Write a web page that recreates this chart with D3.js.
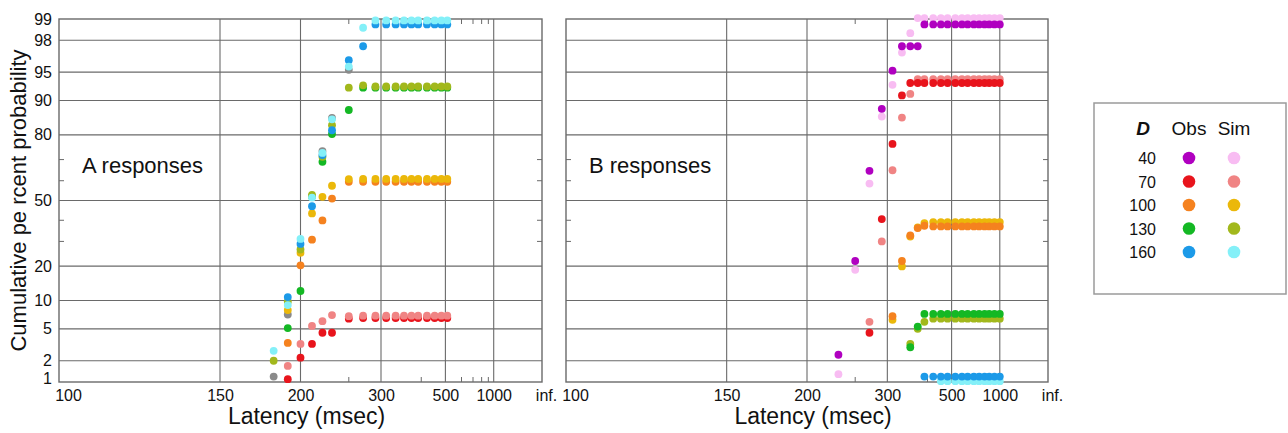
<!DOCTYPE html>
<html>
<head>
<meta charset="utf-8">
<script src="https://cdn.jsdelivr.net/npm/d3@7"></script>
<style>
  body { margin: 0; background: #fff; }
  text { font-family: "Liberation Sans", Arial, sans-serif; fill: #111; }
</style>
</head>
<body>
<div id="chart"></div>
<script>
// Tick values
const yTicks = [1, 2, 5, 10, 20, 50, 80, 90, 95, 98, 99];
const yMinor = [30, 40, 60, 70];
const xTicks = [100, 150, 200, 300, 500, 1000, Infinity];
const xMinor = [250, 400, 600, 700, 800, 900];

// Latency bins (msec) per panel
const latA = [180, 190, 200, 210, 220, 230, 250, 270, 290, 310, 330, 350, 370, 390, 420, 450, 480, 510];
const latB = [230, 250, 270, 290, 310, 330, 350, 370, 390, 420, 450, 480, 520, 560, 600, 650, 700, 760, 820, 900, 1000];

// A responses: cumulative percent
const obs70A  = [null, 1.1, 2.2, 3.3, 4.5, 4.5, 6.5, 6.6, 6.6, 6.6, 6.6, 6.6, 6.6, 6.6, 6.6, 6.6, 6.6, 6.6];
const sim70A  = [null, 1.7, 3.3, 5.4, 6.1, 7.1, 6.9, 7.0, 7.0, 7.0, 7.0, 7.0, 7.0, 7.0, 7.0, 7.0, 7.0, 7.0];
const obs100A = [null, 3.4, 20.3, 30.8, 39.9, 51, 59.5, 59.5, 59.5, 59.5, 59.5, 59.5, 59.5, 59.5, 59.5, 59.5, 59.5, 59.5];
const sim100A = [null, 8.0, 25.1, 43.4, 51.9, 57.5, 60.8, 60.9, 60.9, 60.9, 60.9, 60.9, 60.9, 60.9, 60.9, 60.9, 60.9, 60.9];
const obs130A = [null, 5.1, 12.3, 52, 69, 80.3, 87.7, 92.6, 92.6, 92.6, 92.6, 92.6, 92.6, 92.6, 92.6, 92.6, 92.6, 92.6];
const sim130A = [2.0, 9.8, 26.5, 52.9, 71.2, 83.3, 92.6, 93.0, 92.8, 92.8, 92.8, 92.8, 92.8, 92.8, 92.8, 92.8, 92.8, 92.8];
const obs160A = [null, 10.8, 28.9, 47.1, 72, 81.6, 96.4, 97.6, 98.8, 98.8, 98.8, 98.8, 98.8, 98.8, 98.8, 98.8, 98.8, 98.8];
const sim160A = [2.7, 9.0, 31.1, 51.5, 72.9, 85.1, 95.7, 98.66, 98.95, 98.95, 98.95, 98.95, 98.95, 98.95, 98.95, 98.95, 98.95, 98.95];
const greyA   = [1.2, 7.2, null, null, 73.7, 85.5, 95.3, null, null, null, null, null, null, null, null, null, null, null];

// B responses: cumulative percent
const obs40B  = [2.4, 21.9, 64.8, 88, 95.2, 97.6, 97.6, 97.6, 98.8, 98.8, 98.8, 98.8, 98.8, 98.8, 98.8, 98.8, 98.8, 98.8, 98.8, 98.8, 98.8];
const sim40B  = [1.3, 18.7, 58.6, 85.9, 93.1, 97.1, 98.4, 99.03, 99.03, 99.03, 99.03, 99.03, 99.03, 99.03, 99.03, 99.03, 99.03, 99.03, 99.03, 99.03, 99.03];
const obs70B  = [null, null, 4.5, 40.6, 76.6, 91.1, 93.4, 93.4, 93.4, 93.4, 93.4, 93.4, 93.4, 93.4, 93.4, 93.4, 93.4, 93.4, 93.4, 93.4, 93.4];
const sim70B  = [null, null, 6.0, 30, 65.1, 85.6, 91.4, 94.0, 94.0, 94.0, 94.0, 94.0, 94.0, 94.0, 94.0, 94.0, 94.0, 94.0, 94.0, 94.0, 94.0];
const obs100B = [null, null, null, null, 6.9, 21.9, 32.7, 36.2, 37.3, 37.0, 37.0, 37.0, 37.0, 37.0, 37.0, 37.0, 37.0, 37.0, 37.0, 37.0, 37.0];
const sim100B = [null, null, null, null, 6.3, 19.9, 32.2, 36.5, 38.6, 39.1, 39.1, 39.1, 39.1, 39.1, 39.1, 39.1, 39.1, 39.1, 39.1, 39.1, 39.1];
const obs130B = [null, null, null, null, null, null, 3.0, 5.3, 7.3, 7.3, 7.3, 7.3, 7.3, 7.3, 7.3, 7.3, 7.3, 7.3, 7.3, 7.3, 7.3];
const sim130B = [null, null, null, null, null, null, 3.3, 5.0, 6.0, 6.5, 6.5, 6.5, 6.5, 6.5, 6.5, 6.5, 6.5, 6.5, 6.5, 6.5, 6.5];
const obs160B = [null, null, null, null, null, null, null, null, 1.2, 1.2, 1.2, 1.2, 1.2, 1.2, 1.2, 1.2, 1.2, 1.2, 1.2, 1.2, 1.2];
const sim160B = [null, null, null, null, null, null, null, null, null, null, 1.03, 1.03, 1.03, 1.03, 1.03, 1.03, 1.03, 1.03, 1.03, 1.03, 1.03];

// Legend
const dValues = [40, 70, 100, 130, 160];
const obsColors = ["#b000c0", "#e8141c", "#f5821f", "#14b824", "#1c9ae8"];
const simColors = ["#f8bcf2", "#f08484", "#ebb80a", "#a2b81c", "#84f0f8"];
const greyColor = "#8a8a8a";

// inverse normal CDF (Acklam)
function probit(p) {
  const a = [-3.969683028665376e+01, 2.209460984245205e+02, -2.759285104469687e+02, 1.383577518672690e+02, -3.066479806614716e+01, 2.506628277459239e+00];
  const b = [-5.447609879822406e+01, 1.615858368580409e+02, -1.556989798598866e+02, 6.680131188771972e+01, -1.328068155288572e+01];
  const c = [-7.784894002430293e-03, -3.223964580411365e-01, -2.400758277161838e+00, -2.549732539343734e+00, 4.374664141464968e+00, 2.938163982698783e+00];
  const d = [7.784695709041462e-03, 3.224671290700398e-01, 2.445134137142996e+00, 3.754408661907416e+00];
  const plow = 0.02425;
  let q, r;
  if (p < plow) {
    q = Math.sqrt(-2 * Math.log(p));
    return (((((c[0]*q+c[1])*q+c[2])*q+c[3])*q+c[4])*q+c[5]) / ((((d[0]*q+d[1])*q+d[2])*q+d[3])*q+1);
  }
  if (p <= 1 - plow) {
    q = p - 0.5; r = q * q;
    return (((((a[0]*r+a[1])*r+a[2])*r+a[3])*r+a[4])*r+a[5])*q / (((((b[0]*r+b[1])*r+b[2])*r+b[3])*r+b[4])*r+1);
  }
  q = Math.sqrt(-2 * Math.log(1 - p));
  return -(((((c[0]*q+c[1])*q+c[2])*q+c[3])*q+c[4])*q+c[5]) / ((((d[0]*q+d[1])*q+d[2])*q+d[3])*q+1);
}

const W = 1288, H = 433;
const plotTop = 19, plotBottom = 382;
const gridColor = "#6a6a6a";

const svg = d3.select("#chart").append("svg")
  .attr("width", W).attr("height", H);

// probability scale on y
const yz = d3.scaleLinear().domain([probit(0.01), probit(0.99)]).range([plotBottom, plotTop]);
const y = p => yz(probit(p / 100));
const recip = L => (L === Infinity ? 0 : -1 / L);

function panel(x0, x1, label, lat, series, showY) {
  const xr = d3.scaleLinear().domain([-1 / 100, 0]).range([x0, x1]);
  const x = L => xr(recip(L));
  const g = svg.append("g");

  // horizontal grid
  g.selectAll(".hg").data(yTicks.slice(1, -1)).join("line")
    .attr("x1", x0).attr("x2", x1)
    .attr("y1", d => y(d)).attr("y2", d => y(d))
    .attr("stroke", gridColor).attr("stroke-width", 1.1);
  // vertical grid
  g.selectAll(".vg").data(xTicks.slice(1, -1)).join("line")
    .attr("x1", d => x(d)).attr("x2", d => x(d))
    .attr("y1", plotTop).attr("y2", plotBottom)
    .attr("stroke", gridColor).attr("stroke-width", 1.1);
  // minor y ticks on both edges
  yMinor.forEach(p => {
    g.append("line").attr("x1", x0).attr("x2", x0 + 5).attr("y1", y(p)).attr("y2", y(p))
      .attr("stroke", gridColor);
    g.append("line").attr("x1", x1 - 5).attr("x2", x1).attr("y1", y(p)).attr("y2", y(p))
      .attr("stroke", gridColor);
  });
  // minor x ticks top and bottom
  xMinor.forEach(L => {
    g.append("line").attr("x1", x(L)).attr("x2", x(L)).attr("y1", plotBottom).attr("y2", plotBottom - 5)
      .attr("stroke", gridColor);
    g.append("line").attr("x1", x(L)).attr("x2", x(L)).attr("y1", plotTop).attr("y2", plotTop + 5)
      .attr("stroke", gridColor);
  });
  // frame
  g.append("rect").attr("x", x0).attr("y", plotTop)
    .attr("width", x1 - x0).attr("height", plotBottom - plotTop)
    .attr("fill", "none").attr("stroke", gridColor).attr("stroke-width", 1.4);

  // x tick labels via axis
  const xAxis = d3.axisBottom(xr)
    .tickValues(xTicks.map(recip))
    .tickSize(0).tickPadding(0)
    .tickFormat((d, i) => (xTicks[i] === Infinity ? "inf." : xTicks[i]));
  const ax = g.append("g").attr("transform", `translate(0,${plotBottom + 8})`).call(xAxis);
  ax.select(".domain").remove();
  ax.selectAll("text")
    .attr("font-size", 16).attr("fill", "#111")
    .attr("font-family", "'Liberation Sans', Arial, sans-serif")
    .attr("dx", (d, i) => (i === 0 ? 9 : i === xTicks.length - 1 ? 4 : 0));

  if (showY) {
    const yAxis = d3.axisLeft(yz)
      .tickValues(yTicks.map(p => probit(p / 100)))
      .tickSize(0).tickPadding(7)
      .tickFormat((d, i) => yTicks[i]);
    const ay = g.append("g").attr("transform", `translate(${x0},0)`).call(yAxis);
    ay.select(".domain").remove();
    ay.selectAll("text")
      .attr("font-size", 16).attr("fill", "#111")
      .attr("font-family", "'Liberation Sans', Arial, sans-serif")
      .attr("dy", (d, i) => (i === 0 ? "0.1em" : "0.32em"));
  }

  // panel label
  g.append("text").attr("x", x0 + 23).attr("y", 173)
    .attr("font-size", 22).text(label);

  // x title
  g.append("text").attr("x", (x0 + x1) / 2 + 6).attr("y", 424)
    .attr("text-anchor", "middle").attr("font-size", 23).text("Latency (msec)");

  // dots
  series.forEach(s => {
    const pts = lat.map((L, i) => ({ L, v: s.values[i] })).filter(d => d.v != null);
    g.append("g").selectAll("circle").data(pts).join("circle")
      .attr("cx", d => x(d.L)).attr("cy", d => y(d.v))
      .attr("r", 3.9).attr("fill", s.color);
  });
}

panel(59, 542, "A responses", latA, [
  { values: greyA, color: greyColor },
  { values: obs70A, color: obsColors[1] },
  { values: sim70A, color: simColors[1] },
  { values: obs100A, color: obsColors[2] },
  { values: sim100A, color: simColors[2] },
  { values: obs130A, color: obsColors[3] },
  { values: sim130A, color: simColors[3] },
  { values: obs160A, color: obsColors[4] },
  { values: sim160A, color: simColors[4] }
], true);

panel(566, 1048, "B responses", latB, [
  { values: sim40B, color: simColors[0] },
  { values: obs40B, color: obsColors[0] },
  { values: sim70B, color: simColors[1] },
  { values: obs70B, color: obsColors[1] },
  { values: sim100B, color: simColors[2] },
  { values: obs100B, color: obsColors[2] },
  { values: sim130B, color: simColors[3] },
  { values: obs130B, color: obsColors[3] },
  { values: sim160B, color: simColors[4] },
  { values: obs160B, color: obsColors[4] }
], false);

// y title
svg.append("text")
  .attr("transform", `translate(26,${(plotTop + plotBottom) / 2}) rotate(-90)`)
  .attr("text-anchor", "middle").attr("font-size", 22)
  .text("Cumulative pe rcent probability");

// legend
const lg = svg.append("g");
lg.append("rect").attr("x", 1094).attr("y", 103).attr("width", 192).attr("height", 191)
  .attr("fill", "#fff").attr("stroke", "#9a9a9a").attr("stroke-width", 1.5);
lg.append("text").attr("x", 1150).attr("y", 135).attr("text-anchor", "end")
  .attr("font-size", 19).attr("font-weight", "bold").attr("font-style", "italic").text("D");
lg.append("text").attr("x", 1189).attr("y", 135).attr("text-anchor", "middle")
  .attr("font-size", 19).text("Obs");
lg.append("text").attr("x", 1234).attr("y", 135).attr("text-anchor", "middle")
  .attr("font-size", 19).text("Sim");
const rowY = d3.scalePoint().domain(dValues).range([158, 252]);
lg.selectAll(".dl").data(dValues).join("text")
  .attr("x", 1156).attr("y", d => rowY(d) + 6).attr("text-anchor", "end")
  .attr("font-size", 16).text(d => d);
lg.selectAll(".od").data(dValues).join("circle")
  .attr("cx", 1189).attr("cy", d => rowY(d)).attr("r", 6.3)
  .attr("fill", (d, i) => obsColors[i]);
lg.selectAll(".sd").data(dValues).join("circle")
  .attr("cx", 1234).attr("cy", d => rowY(d)).attr("r", 6.3)
  .attr("fill", (d, i) => simColors[i]);
</script>
</body>
</html>
